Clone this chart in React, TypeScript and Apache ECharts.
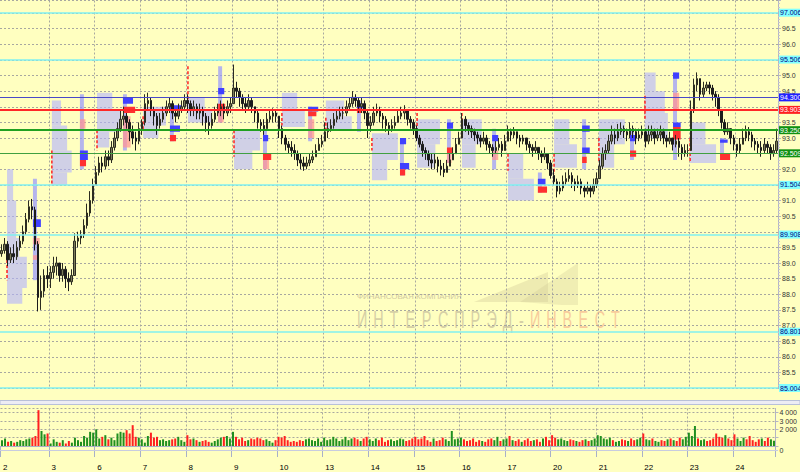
import React, { useEffect, useRef } from 'react';
import * as echarts from 'echarts';

// ---- data ----
const days = ['2', '3', '6', '7', '8', '9', '10', '13', '14', '15', '16', '17', '20', '21', '22', '23', '24'];
const dayCounts = [16, 15, 15, 15, 15, 15, 15, 15, 15, 15, 15, 15, 15, 15, 15, 15, 14];
const firstOpen = 89.3;

const closes = [
  // 2
  89.4, 89.6, 89.1, 89.3, 89.2, 89.5, 89.7, 90.0, 90.4, 90.8, 90.7, 89.6, 87.9, 88.1, 88.6, 88.5,
  // 3
  88.7, 88.9, 89.0, 88.6, 88.8, 88.5, 88.4, 88.6, 89.7, 89.8, 89.9, 90.2, 90.6, 91.0, 91.5,
  // 6
  91.9, 92.2, 92.1, 92.4, 92.3, 92.7, 93.0, 93.3, 93.6, 93.7, 93.5, 93.2, 93.0, 92.9, 93.3,
  // 7
  93.5, 94.1, 94.2, 93.9, 93.7, 93.4, 93.6, 93.8, 94.0, 94.1, 93.8, 93.7, 93.9, 94.0, 94.2,
  // 8
  94.1, 93.9, 94.0, 93.8, 93.9, 93.7, 93.5, 93.4, 93.6, 93.8, 93.9, 94.0, 93.8, 94.0, 94.1,
  // 9
  94.6, 94.5, 94.3, 94.1, 94.0, 94.2, 94.0, 93.8, 93.5, 93.4, 93.3, 93.6, 93.7, 93.8, 93.7,
  // 10
  93.3, 93.0, 92.8, 92.7, 92.6, 92.5, 92.3, 92.2, 92.1, 92.2, 92.3, 92.4, 92.6, 92.8, 92.9,
  // 13
  93.2, 93.3, 93.4, 93.6, 93.7, 93.8, 93.8, 94.0, 94.1, 94.3, 94.2, 94.0, 94.1, 93.8, 93.4,
  // 14
  93.5, 93.8, 93.9, 93.7, 93.6, 93.4, 93.3, 93.4, 93.5, 93.7, 93.8, 93.9, 93.6, 93.5, 93.3,
  // 15
  93.0, 92.8, 92.6, 92.5, 92.3, 92.2, 92.3, 92.1, 92.0, 91.9, 92.1, 92.3, 92.5, 92.8, 93.0,
  // 16
  93.6, 93.4, 93.3, 93.2, 93.1, 93.0, 92.9, 93.0, 92.8, 92.7, 92.6, 92.7, 92.8, 92.6, 92.9,
  // 17
  93.2, 93.1, 93.2, 93.0, 92.9, 93.0, 92.8, 92.7, 92.6, 92.7, 92.5, 92.4, 92.5, 92.2, 91.8,
  // 20
  91.6, 91.3, 91.4, 91.6, 91.7, 91.8, 91.6, 91.5, 91.6, 91.4, 91.3, 91.4, 91.3, 91.5, 91.7,
  // 21
  92.1, 92.5, 92.6, 92.9, 93.1, 93.0, 93.2, 93.3, 93.2, 93.1, 93.3, 93.2, 93.0, 93.1, 93.2,
  // 22
  92.9, 93.1, 93.2, 93.0, 93.1, 93.2, 93.0, 92.9, 93.0, 92.8, 92.9, 92.7, 92.5, 92.6, 92.6,
  // 23
  93.9, 94.7, 94.9, 94.4, 94.6, 94.7, 94.6, 94.4, 94.3, 93.9, 93.5, 93.2, 93.3, 93.0, 92.8,
  // 24
  92.6, 92.8, 93.0, 93.2, 93.1, 92.9, 92.8, 92.7, 92.6, 92.8, 92.7, 92.5, 92.6, 92.9,
];

const highs = [
  89.6, 89.8, 89.7, 89.5, 89.6, 89.7, 89.9, 90.2, 90.6, 91.0, 91.05, 90.8, 89.7, 88.6, 88.8, 88.9,
  88.9, 89.2, 89.2, 89.0, 89.0, 88.9, 88.7, 88.8, 89.95, 90.0, 90.05, 90.4, 90.9, 91.3, 91.7,
  92.1, 92.4, 92.4, 92.6, 92.6, 92.9, 93.2, 93.5, 93.9, 94.0, 93.8, 93.6, 93.4, 93.2, 93.5,
  93.6, 94.4, 94.45, 94.3, 94.0, 93.8, 93.8, 94.0, 94.2, 94.3, 94.2, 93.9, 94.1, 94.2, 94.4,
  94.4, 94.2, 94.2, 94.1, 94.1, 94.0, 93.8, 93.7, 93.8, 94.0, 94.1, 94.2, 94.1, 94.2, 94.3,
  95.35, 94.8, 94.6, 94.4, 94.3, 94.4, 94.3, 94.0, 93.9, 93.6, 93.6, 93.8, 93.9, 93.95, 93.9,
  93.6, 93.4, 93.1, 92.9, 92.9, 92.8, 92.6, 92.5, 92.4, 92.4, 92.5, 92.6, 92.8, 93.0, 93.1,
  93.5, 93.5, 93.6, 93.8, 93.9, 94.0, 94.0, 94.2, 94.3, 94.5, 94.4, 94.3, 94.3, 94.2, 93.9,
  93.7, 94.0, 94.1, 94.0, 93.8, 93.7, 93.5, 93.6, 93.7, 93.9, 94.0, 94.05, 93.9, 93.7, 93.6,
  93.4, 93.1, 92.9, 92.7, 92.6, 92.5, 92.5, 92.4, 92.3, 92.2, 92.3, 92.5, 92.7, 93.0, 93.2,
  93.8, 93.7, 93.5, 93.4, 93.3, 93.2, 93.1, 93.2, 93.1, 92.9, 92.8, 92.9, 93.0, 92.9, 93.1,
  93.4, 93.3, 93.35, 93.2, 93.1, 93.1, 93.0, 92.9, 92.8, 92.9, 92.7, 92.6, 92.7, 92.5, 92.3,
  92.0, 91.7, 91.6, 91.8, 91.9, 92.0, 91.9, 91.7, 91.8, 91.7, 91.5, 91.6, 91.5, 91.7, 91.9,
  92.3, 92.7, 92.8, 93.1, 93.4, 93.3, 93.45, 93.5, 93.4, 93.3, 93.5, 93.4, 93.3, 93.3, 93.4,
  93.3, 93.4, 93.4, 93.3, 93.3, 93.4, 93.3, 93.1, 93.2, 93.0, 93.1, 93.0, 92.8, 92.8, 92.8,
  94.2, 94.9, 95.1, 94.9, 94.8, 94.8, 94.8, 94.7, 94.5, 94.4, 93.9, 93.6, 93.5, 93.3, 93.1,
  92.8, 93.0, 93.3, 93.4, 93.35, 93.2, 93.0, 92.9, 92.9, 93.0, 92.9, 92.8, 92.8, 93.3,
];

const lows = [
  89.2, 89.3, 88.9, 89.0, 89.0, 89.1, 89.4, 89.6, 89.9, 90.3, 90.4, 89.4, 87.45, 87.5, 87.9, 88.2,
  88.2, 88.5, 88.6, 88.4, 88.4, 88.2, 88.1, 88.3, 88.6, 89.5, 89.6, 89.8, 90.1, 90.5, 90.9,
  91.5, 91.8, 91.9, 92.0, 92.1, 92.2, 92.6, 92.9, 93.2, 93.4, 93.3, 92.9, 92.8, 92.6, 92.8,
  93.1, 93.4, 93.9, 93.7, 93.4, 93.1, 93.3, 93.5, 93.7, 93.8, 93.6, 93.5, 93.6, 93.8, 93.9,
  93.8, 93.7, 93.7, 93.6, 93.6, 93.4, 93.2, 93.1, 93.3, 93.5, 93.7, 93.7, 93.6, 93.7, 93.8,
  94.2, 94.3, 94.0, 93.9, 93.8, 93.9, 93.8, 93.5, 93.3, 93.2, 93.1, 93.3, 93.5, 93.5, 93.5,
  93.0, 92.8, 92.6, 92.5, 92.4, 92.3, 92.1, 92.0, 91.95, 92.0, 92.1, 92.2, 92.4, 92.6, 92.7,
  92.9, 93.0, 93.2, 93.3, 93.5, 93.6, 93.6, 93.7, 93.9, 94.0, 94.0, 93.8, 93.8, 93.6, 93.0,
  93.2, 93.4, 93.7, 93.5, 93.3, 93.2, 93.1, 93.2, 93.3, 93.5, 93.6, 93.6, 93.4, 93.3, 93.1,
  92.9, 92.7, 92.4, 92.3, 92.1, 92.0, 92.0, 91.9, 91.8, 91.75, 91.9, 92.1, 92.3, 92.5, 92.8,
  93.3, 93.2, 93.1, 93.0, 92.9, 92.8, 92.7, 92.8, 92.6, 92.5, 92.4, 92.5, 92.6, 92.4, 92.6,
  92.9, 92.9, 93.0, 92.8, 92.7, 92.8, 92.6, 92.5, 92.4, 92.5, 92.3, 92.2, 92.3, 92.0, 91.7,
  91.5, 91.1, 91.2, 91.3, 91.5, 91.6, 91.4, 91.3, 91.4, 91.2, 91.1, 91.2, 91.1, 91.2, 91.4,
  91.7, 92.0, 92.3, 92.5, 92.8, 92.8, 92.9, 93.1, 93.0, 92.9, 93.0, 93.0, 92.8, 92.9, 93.0,
  92.7, 92.8, 92.9, 92.8, 92.9, 92.9, 92.8, 92.7, 92.8, 92.6, 92.7, 92.4, 92.3, 92.4, 92.4,
  93.1, 93.8, 94.5, 94.2, 94.3, 94.5, 94.4, 94.2, 94.0, 93.7, 93.3, 93.1, 93.1, 92.8, 92.6,
  92.4, 92.5, 92.8, 92.9, 92.9, 92.7, 92.6, 92.5, 92.4, 92.5, 92.5, 92.3, 92.4, 92.5,
];

const volumes = [
  700, 900, 500, 600, 400, 500, 700, 600, 800, 900, 1000, 1200, 4300, 1800, 1400, 1500,
  300, 800, 500, 400, 700, 300, 600, 400, 1000, 700, 500, 1200, 1000, 1700, 1600,
  2000, 900, 1100, 1300, 800, 1000, 700, 1500, 1700, 1600, 1900, 1500, 2500, 1100, 1000,
  800, 400, 1200, 1600, 1000, 1100, 700, 800, 600, 700, 800, 900, 1100, 700, 500,
  1300, 800, 900, 700, 500, 600, 700, 500, 400, 600, 800, 1000, 1100, 1200, 900,
  1700, 1100, 800, 1000, 600, 700, 900, 800, 1000, 900, 700, 800, 600, 400, 700,
  1100, 1000, 1200, 700, 500, 600, 500, 700, 600, 800, 900, 700, 600, 900, 500,
  1000, 700, 800, 1100, 900, 600, 800, 1100, 700, 900, 1000, 800, 600, 900, 1100,
  800, 600, 900, 700, 1000, 500, 700, 800, 600, 700, 900, 800, 600, 700, 900,
  1100, 800, 900, 1200, 700, 500, 900, 600, 700, 1000, 800, 600, 1800, 800, 900,
  1000, 800, 600, 700, 900, 500, 700, 600, 500, 800, 900, 700, 1100, 600, 800,
  900, 1200, 700, 600, 800, 500, 700, 900, 600, 700, 800, 500, 900, 1100, 700,
  1300, 1000, 800, 900, 700, 600, 800, 700, 600, 500, 700, 800, 600, 700, 900,
  1300, 1200, 900, 800, 1000, 700, 500, 600, 800, 700, 600, 900, 700, 800, 1000,
  1500, 800, 700, 900, 600, 500, 700, 600, 800, 900, 700, 600, 1000, 800, 1100,
  1600, 1200, 2400, 900, 700, 800, 600, 700, 900, 1500, 1100, 1000, 1300, 900, 700,
  1400, 900, 600, 1000, 800, 1200, 700, 500, 800, 900, 600, 1000, 800, 630,
];

const levelValues = [97.006, 95.506, 94.3, 93.903, 93.25, 92.509, 91.504, 89.908, 86.801, 85.004];
const levelKinds = ['c', 'c', 'b', 'r', 'g', 'g2', 'c', 'c', 'c', 'c'];
const lastVolume = 630.57;
const lastVolumeText = '630 57';

// market profiles: left edge (in bars), TPO blocks [lo, hi, widthBars], value-area [lo, hi]
const profileAt = [2.3, 17.0, 31.8, 46.9, 61.6, 76.7, 92.4, 106.8, 121.9, 136.7, 151.4, 166.5, 181.6, 196.3, 211.4, 226.2];
const profileTpo = [
  [[87.7, 88.2, 5], [88.2, 89.2, 6.5], [89.2, 89.8, 4], [89.8, 91.0, 3], [91.0, 92.0, 2]],
  [[91.5, 91.9, 5], [91.9, 92.6, 6.5], [92.6, 93.4, 5], [93.4, 94.2, 3]],
  [[92.7, 93.2, 4], [93.2, 93.9, 8], [93.9, 94.45, 5]],
  [[93.0, 93.4, 5], [93.4, 94.0, 7.5]],
  [[93.5, 93.9, 8], [93.9, 94.3, 5.5]],
  [[92.0, 92.6, 6], [92.6, 93.25, 8.5]],
  [[93.35, 93.9, 7.5], [93.9, 94.45, 5]],
  [[93.25, 93.7, 8.5], [93.7, 94.2, 6]],
  [[91.65, 92.3, 5], [92.3, 93.15, 8.5]],
  [[92.05, 92.8, 6], [92.8, 93.6, 7.5]],
  [[92.05, 92.8, 4.5], [92.8, 93.6, 6.5]],
  [[91.0, 91.7, 8.5], [91.7, 92.5, 5]],
  [[92.05, 92.8, 7.5], [92.8, 93.6, 5]],
  [[92.05, 92.8, 5], [92.8, 93.6, 8.5]],
  [[93.0, 93.8, 7.5], [93.8, 94.5, 6.5], [94.5, 95.1, 3.5]],
  [[92.2, 92.8, 8.5], [92.8, 93.5, 5]],
];
const valueAreas = [
  [88.45, 89.1], [91.5, 92.6], [92.6, 93.25], [93.25, 93.7], [94.2, 95.3], [92.4, 93.25], [93.4, 93.8], [93.25, 93.65],
  [92.6, 93.0], [93.35, 93.8], [93.35, 93.8], [91.95, 92.5], [91.85, 92.5], [92.25, 93.0], [93.55, 94.35], [92.25, 93.0],
];
// volume-at-price columns: left edge (bars), blocks [lo, hi, widthBars, colourIndex]
const volumeProfileAt = [10.8, 26.2, 40.3, 55.7, 71.5, 86.2, 101, 117, 131.1, 146.5, 161.3, 176.3, 190.8, 206.5, 220.6, 236];
const volumeProfileBlocks = [
  [[88.45, 91.7, 1.3, 0], [90.15, 90.4, 2.6, 1], [89.6, 89.8, 2.2, 2], [89.1, 89.25, 2, 2]],
  [[92.0, 94.4, 1.3, 0], [92.3, 92.6, 2.6, 1], [92.1, 92.3, 2, 3], [93.3, 93.6, 1.8, 2]],
  [[92.6, 94.4, 1.3, 0], [94.1, 94.3, 3.3, 1], [93.8, 94.0, 4, 3], [92.7, 93.7, 2.5, 2]],
  [[92.9, 94.1, 1.3, 0], [93.9, 94.05, 4, 1], [93.2, 93.4, 3.3, 1], [92.9, 93.1, 2, 3]],
  [[93.5, 95.3, 1.3, 0], [94.4, 94.6, 2, 1], [93.9, 94.1, 2.3, 3], [93.5, 93.9, 1.8, 2]],
  [[92.0, 93.3, 1.3, 0], [92.9, 93.1, 1.7, 1], [92.3, 92.5, 2.7, 3], [92.0, 92.3, 2, 2]],
  [[92.9, 94.0, 1.3, 0], [93.85, 94.0, 3.3, 1], [93.7, 93.85, 2.7, 3], [93.0, 93.6, 2, 2]],
  [[93.2, 94.2, 1.3, 0], [93.95, 94.1, 2.3, 1], [93.8, 93.95, 1.7, 3]],
  [[91.8, 93.0, 1.3, 0], [92.8, 93.0, 2, 1], [92.0, 92.2, 3, 1], [91.8, 92.0, 1.7, 3]],
  [[92.2, 93.6, 1.3, 0], [93.3, 93.5, 2, 1], [92.5, 92.7, 2, 3], [92.2, 92.5, 1.5, 2]],
  [[92.0, 93.3, 1.3, 0], [92.9, 93.1, 2, 1], [92.3, 92.6, 2, 2]],
  [[91.25, 91.9, 1.3, 0], [91.5, 91.7, 2.5, 1], [91.25, 91.45, 3, 3]],
  [[92.0, 93.6, 1.3, 0], [93.2, 93.4, 2.5, 1], [92.5, 92.7, 2.5, 1], [92.2, 92.4, 1.5, 3]],
  [[92.3, 93.25, 1.3, 0], [92.9, 93.1, 2, 1], [92.4, 92.6, 2, 3]],
  [[92.3, 95.1, 1.3, 0], [94.9, 95.1, 2, 1], [93.35, 93.5, 2.5, 1], [92.95, 93.35, 2.5, 3], [93.9, 94.45, 2, 2]],
  [[92.3, 93.0, 1.3, 0], [92.85, 92.95, 2.5, 1], [92.3, 92.5, 3.3, 3]],
];

// ---- styles ----
const BG = '#ffffc0';
const GRID_LINE = '#a8a8a0';
const LAVENDER = 'rgba(176,176,255,0.6)';
const VP_COLORS = ['rgba(150,150,255,0.7)', '#4040ff', 'rgba(255,150,150,0.75)', '#ff3030'];
const LEVEL_STYLE: Record<string, any> = {
  c: { line: '#80f0f0', width: 1.5, bg: '#80ffff', text: '#000080' },
  b: { line: '#4848c8', width: 1, bg: '#2020ff', text: '#ffffff' },
  r: { line: '#ff2828', width: 2, bg: '#ff2020', text: '#ffffff' },
  g: { line: '#20a020', width: 2, bg: '#109010', text: '#ffffff' },
  g2: { line: '#40a040', width: 1, bg: '#109010', text: '#ffffff' },
};
const WM_GRAY = ['И', 'Н', 'Т', 'Е', 'Р', 'С', 'П', 'Р', 'Э', 'Д', '-'];
const WM_ORANGE = ['И', 'Н', 'В', 'Е', 'С', 'Т'];

export default function App() {
  const ref = useRef<HTMLDivElement>(null);

  useEffect(() => {
    document.body.style.margin = '0';
    const chart = echarts.init(ref.current!, null, { renderer: 'svg' });

    const cats: string[] = [];
    const dayStart = new Set<number>();
    let idx = 0;
    days.forEach((d, i) => {
      dayStart.add(idx);
      for (let k = 0; k < dayCounts[i]; k++) cats.push(k === 0 ? d : '');
      idx += dayCounts[i];
    });

    let prev = firstOpen;
    const candles = closes.map((c, i) => {
      const o = prev;
      prev = c;
      return [o, c, Math.min(lows[i], o, c), Math.max(highs[i], o, c)];
    });
    const volData = volumes.map((v, i) => ({
      value: v,
      itemStyle: { color: candles[i][1] >= candles[i][0] ? '#1f8f1f' : '#ff2020' },
    }));

    const prof: number[][] = [];
    profileTpo.forEach((blocks, p) => {
      blocks.forEach((b) => prof.push([0, 0, profileAt[p], b[0], b[1], b[2], 0]));
    });
    volumeProfileBlocks.forEach((blocks, p) => {
      blocks.forEach((b) => prof.push([0, 1, volumeProfileAt[p], b[0], b[1], b[2], b[3]]));
    });
    valueAreas.forEach((va, p) => prof.push([0, 2, profileAt[p], va[0], va[1], 0, 0]));

    const dayInterval = (i: number) => dayStart.has(i) && i > 0;
    const labelInterval = (i: number) => dayStart.has(i);

    const font = 'Liberation Sans, Arial, sans-serif';

    const markLineData = levelValues.map((v, i) => {
      const s = LEVEL_STYLE[levelKinds[i]];
      return {
        yAxis: v,
        lineStyle: { color: s.line, width: s.width, type: 'solid' },
        label: {
          show: true,
          position: 'end',
          distance: 1,
          formatter: v.toFixed(3),
          backgroundColor: s.bg,
          color: s.text,
          fontSize: 7,
          fontFamily: font,
          padding: [1, 0, 0, 1],
        },
      };
    });

    // hide price tick labels that sit under a level label (as in the reference)
    const priceTick = (v: number) => (levelValues.some((l) => Math.abs(l - v) < 0.15) ? '' : v.toFixed(1));

    const wm: any[] = [
      {
        type: 'text', left: 357, top: 292, z: 0, silent: true,
        style: { text: 'ФИНАНСОВАЯ КОМПАНИЯ', fill: '#d2caa0', font: '8px "Liberation Sans", sans-serif' },
      },
      { type: 'polygon', z: 0, silent: true, shape: { points: [[474, 302], [548, 272], [548, 302]] }, style: { fill: 'rgba(205,198,150,0.35)' } },
      { type: 'polygon', z: 0, silent: true, shape: { points: [[520, 302], [578, 263], [578, 305], [562, 305]] }, style: { fill: 'rgba(205,198,150,0.3)' } },
    ];
    WM_GRAY.forEach((ch, i) => {
      wm.push({
        type: 'text', x: 357 + i * 16.2, y: 307, scaleX: 0.6, z: 0, silent: true,
        style: { text: ch, fill: '#d6d0a6', font: '24px "Liberation Sans", sans-serif' },
      });
    });
    WM_ORANGE.forEach((ch, i) => {
      wm.push({
        type: 'text', x: 530 + i * 16.2, y: 307, scaleX: 0.6, z: 0, silent: true,
        style: { text: ch, fill: '#f8cc9c', font: '24px "Liberation Sans", sans-serif' },
      });
    });
    const deco: any[] = [
      { type: 'rect', z: 5, silent: true, shape: { x: 0, y: 400.5, width: 800, height: 4 }, style: { fill: '#ececf4', stroke: '#b8c0d8', lineWidth: 1 } },
      { type: 'line', z: 5, silent: true, shape: { x1: 0, y1: 450.5, x2: 778, y2: 450.5 }, style: { stroke: '#c8cce0', lineWidth: 1 } },
    ];

    const option: any = {
      animation: false,
      backgroundColor: BG,
      textStyle: { fontFamily: font },
      grid: [
        { left: 0, right: 22, top: 0.5, bottom: 84 },
        { left: 0, right: 22, top: 408.5, bottom: 26 },
      ],
      xAxis: [
        {
          type: 'category', gridIndex: 0, data: cats, boundaryGap: true,
          axisLine: { show: false }, axisTick: { show: false }, axisLabel: { show: false },
          splitLine: { show: true, interval: dayInterval, lineStyle: { color: GRID_LINE, type: [2, 2], width: 1 } },
        },
        {
          type: 'category', gridIndex: 1, data: cats, boundaryGap: true, offset: 15,
          axisLine: { show: true, lineStyle: { color: '#a8b0c8', width: 1 } },
          axisTick: { show: true, interval: labelInterval, length: 11, lineStyle: { color: '#a8b0c8' } },
          axisLabel: { show: true, interval: labelInterval, align: 'left', margin: 2, fontSize: 8, color: '#000', padding: [0, 0, 0, 1] },
          splitLine: { show: true, interval: dayInterval, lineStyle: { color: GRID_LINE, type: [2, 2], width: 1 } },
        },
      ],
      yAxis: [
        {
          type: 'value', gridIndex: 0, position: 'right', min: 85, max: 97.4, interval: 0.5,
          axisLine: { show: true, lineStyle: { color: '#b4b4c4' } },
          axisTick: { show: true, length: 3, lineStyle: { color: '#b4b4c4' } },
          minorTick: { show: true, splitNumber: 5, length: 2, lineStyle: { color: '#c4c4d0' } },
          axisLabel: { show: true, fontSize: 7, color: '#333', margin: 4, showMaxLabel: false, formatter: priceTick },
          splitLine: { show: true, lineStyle: { color: GRID_LINE, type: [2, 2], width: 1 } },
        },
        {
          type: 'value', gridIndex: 1, position: 'right', min: 0, max: 4500, interval: 1000,
          axisLine: { show: true, lineStyle: { color: '#b4b4c4' } },
          axisTick: { show: true, length: 3, lineStyle: { color: '#b4b4c4' } },
          axisLabel: {
            show: true, fontSize: 7, color: '#333', margin: 4, showMaxLabel: false,
            formatter: (v: number) => (v === 0 ? '{z|0}' : v === 1000 ? '' : `${v / 1000} 000`),
            rich: { z: { fontSize: 7, color: '#333', padding: [9, 0, 0, 0] } },
          },
          splitLine: { show: true, lineStyle: { color: GRID_LINE, type: [2, 2], width: 1 } },
        },
      ],
      graphic: [...wm, ...deco],
      series: [
        {
          type: 'custom', xAxisIndex: 0, yAxisIndex: 0, z: 1, silent: true, clip: true,
          data: prof, encode: { x: 0, y: 3 },
          renderItem: (params: any, api: any) => {
            const t = api.value(1);
            const at = api.value(2);
            const lo = api.value(3);
            const hi = api.value(4);
            const w = api.value(5);
            const ci = api.value(6);
            const bw = api.size([1, 0])[0];
            const pLo = api.coord([0, lo]);
            const pHi = api.coord([0, hi]);
            const x = pLo[0] - bw / 2 + at * bw;
            if (t === 2) {
              return {
                type: 'line',
                shape: { x1: x, y1: pHi[1], x2: x, y2: pLo[1] },
                style: { stroke: '#ff2020', lineWidth: 1.5, lineDash: [3, 2] },
              };
            }
            return {
              type: 'rect',
              shape: { x, y: pHi[1], width: w * bw, height: pLo[1] - pHi[1] },
              style: { fill: t === 0 ? LAVENDER : VP_COLORS[ci] },
            };
          },
        },
        {
          type: 'candlestick', xAxisIndex: 0, yAxisIndex: 0, z: 3, barWidth: 2,
          data: candles,
          itemStyle: { color: '#7c7c5c', color0: '#1c1c1c', borderColor: '#2c2c20', borderColor0: '#1c1c1c', borderWidth: 1 },
          markLine: { silent: true, symbol: ['none', 'none'], animation: false, data: markLineData },
        },
        {
          type: 'bar', xAxisIndex: 1, yAxisIndex: 1, barWidth: 2, data: volData,
          markLine: {
            silent: true, symbol: ['none', 'none'], animation: false,
            data: [{
              yAxis: lastVolume,
              lineStyle: { color: BG, width: 0.5, opacity: 0.01 },
              label: { show: true, position: 'end', distance: 1, formatter: lastVolumeText, color: '#ff2020', fontSize: 7, fontFamily: font, backgroundColor: '#fff8e0', padding: [1, 0, 0, 1] },
            }],
          },
        },
      ],
    };

    chart.setOption(option);
    return () => chart.dispose();
  }, []);

  return <div ref={ref} style={{ position: 'fixed', left: 0, top: 0, width: 800, height: 472 }} />;
}
